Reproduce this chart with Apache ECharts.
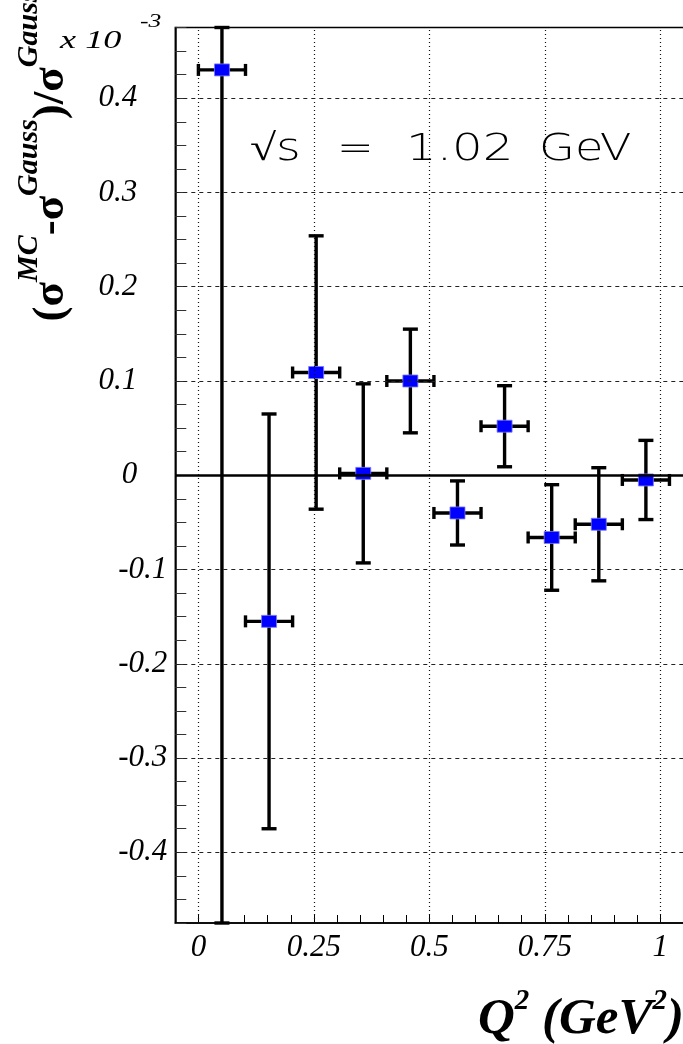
<!DOCTYPE html>
<html>
<head>
<meta charset="utf-8">
<script src="https://cdn.jsdelivr.net/npm/echarts@6/dist/echarts.min.js"></script>
<style>
html,body{margin:0;padding:0;background:#fff;}
#c{width:683px;height:1044px;}
</style>
</head>
<body>
<div id="c"></div>
<script>
// ---- data ----
const xCenters = [0.051, 0.153, 0.255, 0.357, 0.459, 0.561, 0.663, 0.765, 0.867, 0.969];
const xHalfWidths = [0.051, 0.051, 0.051, 0.051, 0.051, 0.051, 0.051, 0.051, 0.051, 0.051];
const yValues = [0.430, -0.155, 0.109, 0.002, 0.100, -0.040, 0.052, -0.066, -0.052, -0.005];
const yErrors = [1.0, 0.220, 0.145, 0.095, 0.055, 0.034, 0.043, 0.056, 0.060, 0.042];
const xGridValues = [0, 0.25, 0.5, 0.75, 1];
const yGridValues = [-0.4, -0.3, -0.2, -0.1, 0.1, 0.2, 0.3, 0.4];
const xLabelValues = [0, 0.25, 0.5, 0.75, 1];
const yLabelValues = [-0.4, -0.3, -0.2, -0.1, 0, 0.1, 0.2, 0.3, 0.4];
const X_MIN = -0.05, X_MAX = 1.058, Y_MIN = -0.475, Y_MAX = 0.475;

const serif = '"Liberation Serif", "DejaVu Serif", serif';

function isIn(v, arr){ return arr.some(a => Math.abs(a - v) < 1e-6); }
function fmt(v){ if (Math.abs(v) < 1e-9) return '0'; return String(Math.round(v*1000)/1000); }

const chart = echarts.init(document.getElementById('c'), null, {renderer:'canvas'});

const pointData = xCenters.map((x,i)=>[x, yValues[i], xHalfWidths[i], yErrors[i]]);

const markLineData = [];
xGridValues.forEach(v => markLineData.push({xAxis: v, lineStyle:{type:[1,3], color:'#111', width:1.2}}));
yGridValues.forEach(v => markLineData.push({yAxis: v, lineStyle:{type:[4,4], color:'#222', width:1}}));
markLineData.push({yAxis: 0, lineStyle:{type:'solid', color:'#000', width:2.6}});

const labelFont = {fontFamily: serif, fontStyle: 'italic', fontSize: 31, color: '#000'};

chart.setOption({
  animation: false,
  grid: {left: 175.3, top: 27.5, right: -4, bottom: 121, show: true, borderColor: '#000', borderWidth: 1.5, containLabel: false, outerBoundsMode: 'none'},
  xAxis: {
    type: 'value', min: X_MIN, max: X_MAX, interval: 0.05,
    axisLine: {show: true, onZero: false, lineStyle: {color:'#000', width:1.5}},
    axisTick: {show: true, inside: true, length: 8, lineStyle:{color:'#000', width:1}},
    splitLine: {show: false},
    axisLabel: Object.assign({
      show: true, margin: 9,
      formatter: v => isIn(v, xLabelValues) ? fmt(v) : '',
      showMinLabel: true, showMaxLabel: true, hideOverlap: false
    }, labelFont)
  },
  yAxis: {
    type: 'value', min: Y_MIN, max: Y_MAX, interval: 0.025,
    axisLine: {show: true, onZero: false, lineStyle: {color:'#000', width:1.5}},
    axisTick: {show: true, inside: true, length: 11, lineStyle:{color:'#333', width:1}},
    splitLine: {show: false},
    axisLabel: Object.assign({
      show: true, margin: 8,
      formatter: v => isIn(v, yLabelValues) ? (v < -1e-9 ? '{n|' + fmt(v) + '}' : '{p|' + fmt(v) + '}') : '',
      hideOverlap: false,
      rich: {
        p: Object.assign({padding: [0, 30, 0, 0]}, labelFont),
        n: Object.assign({}, labelFont)
      }
    }, labelFont)
  },
  series: [
    {
      type: 'line', data: [], silent: true,
      markLine: {silent: true, symbol: ['none','none'], label:{show:false}, animation:false, data: markLineData}
    },
    {
      type: 'custom',
      data: pointData,
      clip: false,
      renderItem: function(params, api){
        const x = api.value(0), y = api.value(1), ex = api.value(2), ey = api.value(3);
        const hi = Math.min(y + ey, Y_MAX), lo = Math.max(y - ey, Y_MIN);
        const c = api.coord([x, y]);
        const t = api.coord([x, hi]);
        const b = api.coord([x, lo]);
        const l = api.coord([x - ex, y]);
        const r = api.coord([x + ex, y]);
        const st = {stroke:'#000', lineWidth:3.4, fill:null};
        const capW = 7.5, capH = 6;
        return {
          type: 'group',
          children: [
            {type:'line', shape:{x1:l[0], y1:c[1], x2:r[0], y2:c[1]}, style:st},
            {type:'line', shape:{x1:l[0], y1:c[1]-capH, x2:l[0], y2:c[1]+capH}, style:st},
            {type:'line', shape:{x1:r[0], y1:c[1]-capH, x2:r[0], y2:c[1]+capH}, style:st},
            {type:'line', shape:{x1:c[0], y1:t[1], x2:c[0], y2:b[1]}, style:st},
            {type:'line', shape:{x1:c[0]-capW, y1:t[1], x2:c[0]+capW, y2:t[1]}, style:st},
            {type:'line', shape:{x1:c[0]-capW, y1:b[1], x2:c[0]+capW, y2:b[1]}, style:st},
            {type:'rect', shape:{x:c[0]-7.5, y:c[1]-6, width:15, height:12}, style:{fill:'#0000ff', stroke:'#7a7aff', lineWidth:0.8}}
          ]
        };
      }
    }
  ],
  graphic: [
    {type:'text', x:250, y:150, scaleX:1.25, style:{text:'\u221As', font:'200 38px "DejaVu Sans"', fill:'#000', verticalAlign:'middle'}},
    {type:'text', x:337, y:150, scaleX:1.15, style:{text:'=', font:'200 38px "DejaVu Sans"', fill:'#000', verticalAlign:'middle'}},
    {type:'text', x:406, y:150, scaleX:1.27, style:{text:'1.02', font:'200 38px "DejaVu Sans"', fill:'#000', verticalAlign:'middle'}},
    {type:'text', x:539, y:150, scaleX:1.22, style:{text:'GeV', font:'200 38px "DejaVu Sans"', fill:'#000', verticalAlign:'middle'}},
    {type:'text', x:60, y:41, scaleX:1.45, style:{text:'x 10', font:'italic 25px ' + serif, fill:'#000', verticalAlign:'middle'}},
    {type:'text', x:140, y:22, scaleX:1.35, style:{text:'-3', font:'italic 19px ' + serif, fill:'#000', verticalAlign:'middle'}},
    {
      type:'text', x:44, y:156, rotation: Math.PI/2,
      style:{
        text:'{m|(\u03C3}{s|MC}{m|-\u03C3}{s|Gauss}{m|)/\u03C3}{s|Gauss}',
        align:'center', verticalAlign:'middle',
        rich:{
          m:{fontFamily:serif, fontWeight:'bold', fontSize:45, lineHeight:60, verticalAlign:'bottom', fill:'#000'},
          s:{fontFamily:serif, fontWeight:'bold', fontStyle:'italic', fontSize:30, lineHeight:32, verticalAlign:'top', fill:'#000'}
        }
      }
    },
    {
      type:'text', x:684, y:1016,
      style:{
        text:'{m|Q}{s|2}{m| (GeV}{s|2}{m|)}',
        align:'right', verticalAlign:'middle',
        rich:{
          m:{fontFamily:serif, fontWeight:'bold', fontStyle:'italic', fontSize:51, lineHeight:58, verticalAlign:'bottom', fill:'#000'},
          s:{fontFamily:serif, fontWeight:'bold', fontStyle:'italic', fontSize:29, lineHeight:30, verticalAlign:'top', fill:'#000'}
        }
      }
    }
  ]
});
</script>
</body>
</html>
